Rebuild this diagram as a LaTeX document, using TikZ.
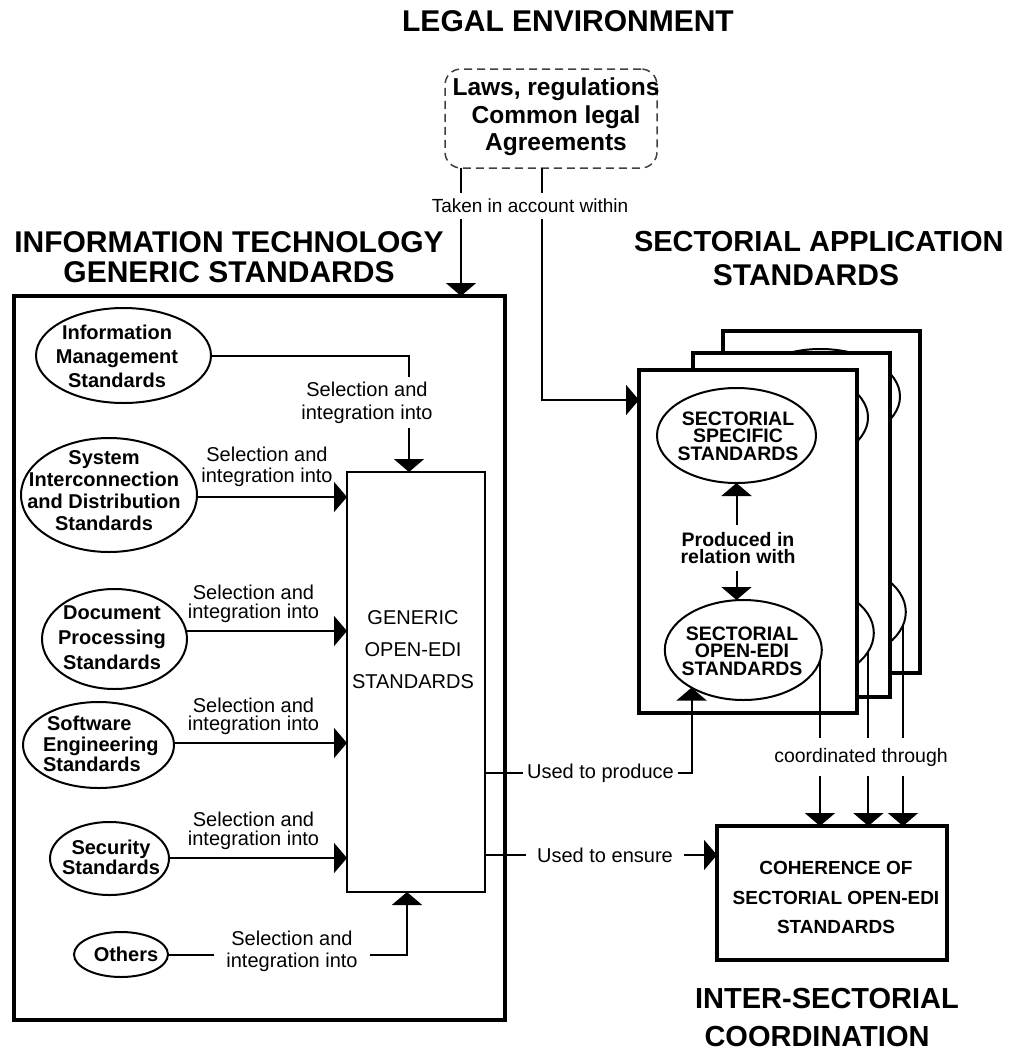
\documentclass[tikz,border=0pt]{standalone}
\usepackage{fontspec}
\setmainfont{Liberation Sans}
\usetikzlibrary{arrows.meta,shapes.geometric}

\begin{document}
\begin{tikzpicture}[x=1pt, y=-1pt,
  every node/.style={inner sep=0pt, outer sep=0pt},
  conn/.style={line width=2pt, >={Triangle[length=13pt,width=30pt]}},
  heavy/.style={draw, line width=4.8pt, fill=white},
  oval/.style={ellipse, draw, line width=2pt},
  ovaltext/.style={font=\fontsize{20}{#1}\selectfont\bfseries, align=center},
  ovaltext/.default=24,
  capstext/.style={font=\fontsize{19.5}{#1}\selectfont\bfseries, align=center},
  capstext/.default=17.5,
  heading/.style={font=\fontsize{30}{30}\selectfont\bfseries, align=center},
  subheading/.style={font=\fontsize{29}{30}\selectfont\bfseries, align=center},
  lbl/.style={font=\fontsize{20}{#1}\selectfont, align=center},
  lbl/.default=19.5,
  gaplbl/.style={font=\fontsize{20}{#1}\selectfont, align=center, fill=white},
  gaplbl/.default=19.5,
]
\useasboundingbox (0,0) rectangle (1019,1053);

% ---------- headings ----------
\node[heading] (hLegal) at (568,21) {LEGAL ENVIRONMENT};
\node[heading] (hIT) at (229,257) {INFORMATION TECHNOLOGY\\GENERIC STANDARDS};
\node[subheading, anchor=west] (hSA) at (634,242) {SECTORIAL APPLICATION};
\node[heading] (hSAb) at (806,275) {STANDARDS};
\node[subheading] (hIS) at (827,999) {INTER-SECTORIAL};
\node[subheading] (hISb) at (817,1037) {COORDINATION};

% ---------- legal environment ----------
\node[draw=black!75, dash pattern=on 8pt off 5pt, line width=1.5pt,
      rounded corners=16pt, minimum width=212pt, minimum height=99pt]
      (legal) at (551,118.5) {};
\node[font=\fontsize{24.5}{27.5}\selectfont\bfseries, align=center]
      (legalText) at (556,117) {Laws, regulations\\Common legal\\Agreements};

% ---------- information technology generic standards ----------
\node[heavy, minimum width=491pt, minimum height=724pt] (itbox) at (259.5,658) {};
\node[draw, line width=2pt, fill=white, minimum width=138pt, minimum height=420pt]
      (gen) at (416,682) {};
\node[font=\fontsize{20}{32}\selectfont, align=center] (genText) at (413,650)
      {GENERIC\\OPEN-EDI\\STANDARDS};

\node[oval, minimum width=175pt, minimum height=95pt] (im) at (123.5,355.5) {};
\node[ovaltext] (imText) at (117,356) {Information\\Management\\Standards};

\node[oval, minimum width=176pt, minimum height=114pt] (si) at (109,495) {};
\node[ovaltext=22] (siText) at (104,491)
      {System\\Interconnection\\and Distribution\\Standards};

\node[oval, minimum width=145pt, minimum height=100pt] (doc) at (114.5,639) {};
\node[ovaltext=25] (docText) at (112,638) {Document\\Processing\\Standards};

\node[oval, minimum width=151pt, minimum height=86pt] (sw) at (98.5,745) {};
\node[ovaltext=20.5, align=left, anchor=west] (swText) at (43,744)
      {\hspace*{4pt}Software\\Engineering\\Standards};

\node[oval, minimum width=119pt, minimum height=73pt] (sec) at (109.5,858.5) {};
\node[ovaltext=20] (secText) at (111,857) {Security\\Standards};

\node[oval, minimum width=94pt, minimum height=45pt] (oth) at (121,954.5) {};
\node[ovaltext] (othText) at (126,954) {Others};

% ---------- sectorial application standards (stacked sheets) ----------
\node[heavy, minimum width=197pt, minimum height=342pt] (sheetC) at (821.5,502) {};
\node[oval, minimum width=159pt, minimum height=95pt] (specC) at (820.5,396.5) {};
\node[oval, minimum width=157pt, minimum height=100pt] (oediC) at (827.3,612) {};

\node[heavy, minimum width=197pt, minimum height=344pt] (sheetB) at (791.5,525) {};
\node[oval, minimum width=159pt, minimum height=95pt] (specB) at (788.5,417.5) {};
\node[oval, minimum width=157pt, minimum height=100pt] (oediB) at (795.3,633) {};

\node[heavy, minimum width=218pt, minimum height=343pt] (sheetA) at (748,541.5) {};
\node[oval, minimum width=159pt, minimum height=95pt] (spec) at (736.5,435.5) {};
\node[oval, minimum width=157pt, minimum height=100pt] (oedi) at (743.3,650) {};
\node[capstext] (specText) at (738,436) {SECTORIAL\\SPECIFIC\\STANDARDS};
\node[capstext] (oediText) at (742,651) {SECTORIAL\\OPEN-EDI\\STANDARDS};

% ---------- inter-sectorial coordination ----------
\node[heavy, minimum width=230pt, minimum height=134pt] (coh) at (832,893) {};
\node[font=\fontsize{19}{29.5}\selectfont\bfseries, align=center] (cohText)
      at (836,897.5) {COHERENCE OF\\SECTORIAL OPEN-EDI\\STANDARDS};

% ---------- connectors ----------
\coordinate (xLegalL) at (461,0);
\coordinate (xLegalR) at (542,0);
\coordinate (yLegalR) at (0,400);
\draw[conn,->] (legal.south -| xLegalL) -- (itbox.north -| xLegalL);
\draw[conn,->] (legal.south -| xLegalR) |- (sheetA.west |- yLegalR);
\node[gaplbl, font=\fontsize{19}{19}\selectfont, inner xsep=0pt, inner ysep=6.5pt]
      (lblLegal) at (530,206) {Taken in account within};

\coordinate (xIM) at (409,0);
\draw[conn,->] (im.east) -| (gen.north -| xIM);
\node[gaplbl=23, inner xsep=2pt, inner ysep=5pt] (lblIM) at (367,402.5)
      {Selection and\\integration into};

\coordinate (ySI) at (0,497);
\draw[conn,->] (si.east |- ySI) -- (gen.west |- ySI);
\node[lbl=20.5] (lblSI) at (267,467) {Selection and\\integration into};

\coordinate (yDoc) at (0,631);
\draw[conn,->] (doc.east |- yDoc) -- (gen.west |- yDoc);
\node[lbl=18.5] (lblDoc) at (253.5,604) {Selection and\\integration into};

\coordinate (ySW) at (0,743);
\draw[conn,->] (sw.east |- ySW) -- (gen.west |- ySW);
\node[lbl=18.5] (lblSW) at (253.5,716.5) {Selection and\\integration into};

\coordinate (ySec) at (0,858);
\draw[conn,->] (sec.east |- ySec) -- (gen.west |- ySec);
\node[lbl=18.5] (lblSec) at (253.5,831) {Selection and\\integration into};

\coordinate (xOth) at (407,0);
\draw[conn,->] (oth.east) -| (gen.south -| xOth);
\node[gaplbl=22, inner xsep=12pt, inner ysep=2pt] (lblOth) at (292,951)
      {Selection and\\integration into};

\coordinate (yProd) at (0,773);
\draw[conn,->] (gen.east |- yProd) -| (oedi.216.5);
\node[gaplbl, inner xsep=4pt, inner ysep=2pt] (lblProd) at (600.5,773) {Used to produce};

\coordinate (yEns) at (0,855);
\draw[conn,->] (gen.east |- yEns) -- (coh.west |- yEns);
\node[gaplbl, inner xsep=11pt, inner ysep=2pt] (lblEns) at (605,855) {Used to ensure};

\draw[conn,<->] (spec.south) -- (spec.south |- oedi.north);
\node[capstext=17.5, fill=white, inner xsep=2pt, inner ysep=7pt] (lblRel) at (738,548)
      {Produced in\\relation with};

\draw[conn,->] (oedi.-8) -- (oedi.-8 |- coh.north);
\draw[conn,->] (oediB.-14.5) -- (oediB.-14.5 |- coh.north);
\draw[conn,->] (oediC.-10) -- (oediC.-10 |- coh.north);
\node[gaplbl, font=\fontsize{19.5}{19.5}\selectfont, inner xsep=0pt, inner ysep=9.5pt]
      (lblCoord) at (861,757) {coordinated through};

\end{tikzpicture}
\end{document}
